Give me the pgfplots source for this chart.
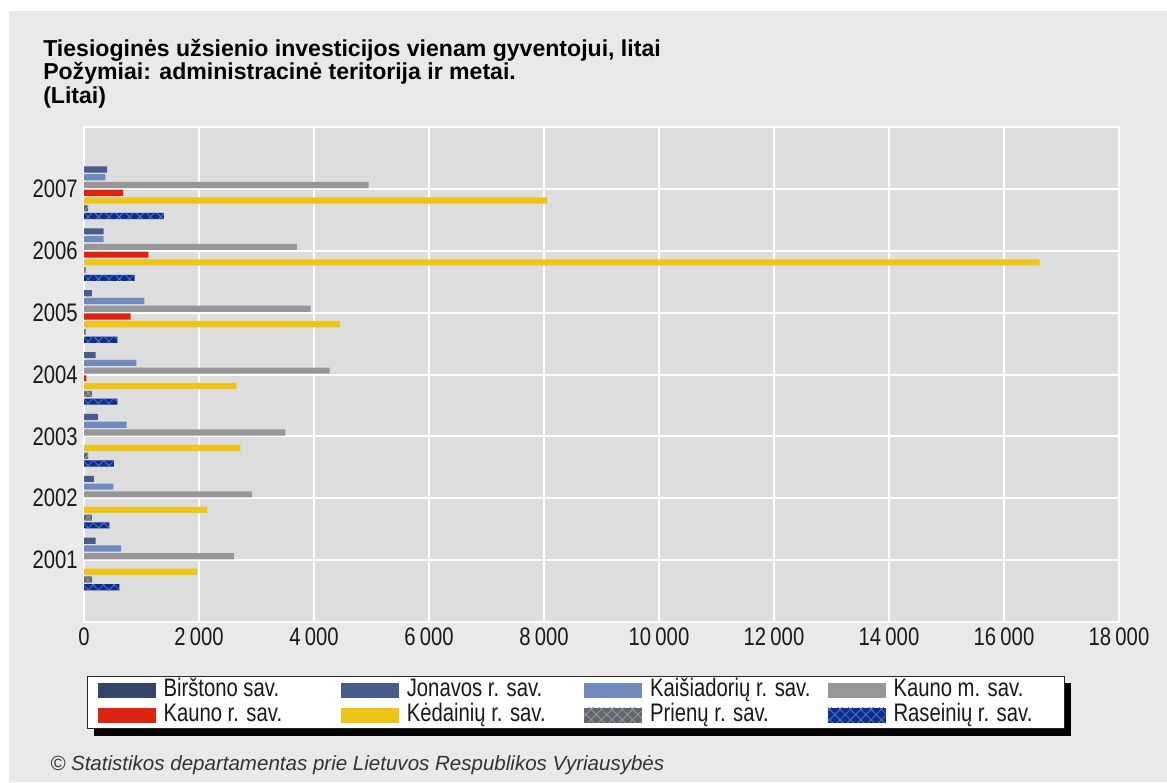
\documentclass[border=0pt]{standalone}
\usepackage{fontspec}
\setmainfont{Liberation Sans}
\newfontfamily\narrowfont[FakeStretch=0.8]{Liberation Sans}
\usepackage{pgfplots}
\usepackage{pgfplotstable}
\pgfplotsset{compat=1.18}
\usetikzlibrary{patterns.meta}

\definecolor{pagebg}{HTML}{E9E9E9}
\definecolor{plotbg}{HTML}{DDDDDD}
\definecolor{cBirs}{HTML}{34466A}
\definecolor{cJon}{HTML}{485D8E}
\definecolor{cKais}{HTML}{6F8BBE}
\definecolor{cKaunoM}{HTML}{979797}
\definecolor{cKaunoR}{HTML}{DD2211}
\definecolor{cKed}{HTML}{F0C414}
\definecolor{cPrie}{HTML}{666666}
\definecolor{cPrieHatch}{HTML}{8E9AB4}
\definecolor{cRas}{HTML}{0B2D8C}
\definecolor{cRasHatch}{HTML}{5676CC}

% per-capita foreign direct investment, litai
\pgfplotstableread{
year jon  kais kaunom ked   prie ras
2001 200  645  2610   1970  135  615
2002 170  510  2920   2140  135  440
2003 240  740  3500   2720  70   520
2004 200  910  4270   2650  140  580
2005 135  1050 3940   4450  30   580
2006 340  340  3700   16620 30   880
2007 400  370  4950   8050  70   1390
}\fdi
% Kauno r. sav. has values only from 2004
\pgfplotstableread{
year val
2004 40
2005 810
2006 1120
2007 680
}\kaunor

\pgfplotsset{
  swatch legend/.style={legend image code/.code={%
    \draw[##1,draw=none] (0pt,-5.6pt) rectangle (43.5pt,5.6pt);}},
  diamond hatch/.style={postaction={pattern={Lines[angle=45,distance=5.5pt,line width=0.6pt]},pattern color=#1},
                        postaction={pattern={Lines[angle=-45,distance=5.5pt,line width=0.6pt]},pattern color=#1}},
}

\newcommand{\entry}[1]{\makebox[120.6pt][l]{#1}}

\begin{document}
\begin{tikzpicture}
\fill[white] (0,0) rectangle (875.25pt,586.5pt);
\fill[pagebg] (6.75pt,0) rectangle (875.25pt,578.25pt);
% shadow behind the legend box
\fill[black] (70.5pt,34.5pt) rectangle (803.25pt,74.25pt);

\begin{axis}[
  at={(63pt,120pt)}, anchor=south west,
  scale only axis, width=776.25pt, height=371.25pt,
  xmin=0, xmax=18000, ymin=2000, ymax=2008,
  enlargelimits=false,
  xtick={0,2000,...,18000},
  ytick={2001,2002,2003,2004,2005,2006,2007},
  yticklabels={2001,2002,2003,2004,2005,2006,2007},
  scaled x ticks=false,
  /pgf/number format/assume math mode=true,
  /pgf/number format/1000 sep={\,},
  tick label style={font=\narrowfont\fontsize{19}{19}\selectfont, text=black!90},
  xticklabel style={inner sep=0pt, yshift=-4.5pt},
  yticklabel style={inner sep=0pt, xshift=-4.5pt},
  major tick length=0pt,
  tick style={draw=none},
  grid=major,
  major grid style={white, line width=1.5pt},
  axis line style={white, line width=1.5pt},
  axis background/.style={fill=plotbg},
  xbar,
  bar width=4.6pt,
  every axis plot post/.append style={swatch legend},
  legend columns=4,
  legend style={
    at={(0.0029,-0.1091)}, anchor=north west,
    draw=black!85, line width=0.75pt, fill=white,
    inner xsep=7.5pt, inner ysep=1.6pt, row sep=1.65pt,
    font=\narrowfont\fontsize{19}{19}\selectfont, text=black!90,
    nodes={inner sep=0pt, text height=13.6pt, text depth=3.5pt},
    /tikz/every odd column/.append style={column sep=6pt},
    /tikz/every even column/.append style={column sep=12.4pt},
  },
]
\addlegendimage{swatch legend, fill=cBirs}
\addlegendentry{\entry{Birštono sav.}}

\addplot[fill=cJon, draw=none, bar shift=14.5pt] table[x=jon, y=year] {\fdi};
\addlegendentry{\entry{Jonavos r. sav.}}

\addplot[fill=cKais, draw=none, bar shift=8.7pt] table[x=kais, y=year] {\fdi};
\addlegendentry{\entry{Kaišiadorių r. sav.}}

\addplot[fill=cKaunoM, draw=none, bar shift=2.9pt] table[x=kaunom, y=year] {\fdi};
\addlegendentry{\entry{Kauno m. sav.}}

\addplot[fill=cKaunoR, draw=none, bar shift=-2.9pt] table[x=val, y=year] {\kaunor};
\addlegendentry{\entry{Kauno r. sav.}}

\addplot[fill=cKed, draw=none, bar shift=-8.7pt] table[x=ked, y=year] {\fdi};
\addlegendentry{\entry{Kėdainių r. sav.}}

\addplot[fill=cPrie, draw=none, diamond hatch=cPrieHatch, bar shift=-14.5pt] table[x=prie, y=year] {\fdi};
\addlegendentry{\entry{Prienų r. sav.}}

\addplot[fill=cRas, draw=none, diamond hatch=cRasHatch, bar shift=-20.3pt] table[x=ras, y=year] {\fdi};
\addlegendentry{\entry{Raseinių r. sav.}}
\end{axis}

\begin{scope}[every node/.style={anchor=base west, inner sep=0pt, text=black}]
\node[font=\bfseries\fontsize{17.3}{20}\selectfont] at (32.25pt,543.75pt)
  {Tiesioginės užsienio investicijos vienam gyventojui, litai};
\node[font=\bfseries\fontsize{17.3}{20}\selectfont] at (32.25pt,526.5pt)
  {Požymiai: administracinė teritorija ir metai.};
\node[font=\bfseries\fontsize{17.3}{20}\selectfont] at (32.25pt,508.5pt)
  {(Litai)};
\node[font=\itshape\fontsize{15.4}{18}\selectfont, text=black!80] at (37.5pt,9pt)
  {© Statistikos departamentas prie Lietuvos Respublikos Vyriausybės};
\end{scope}
\end{tikzpicture}
\end{document}
